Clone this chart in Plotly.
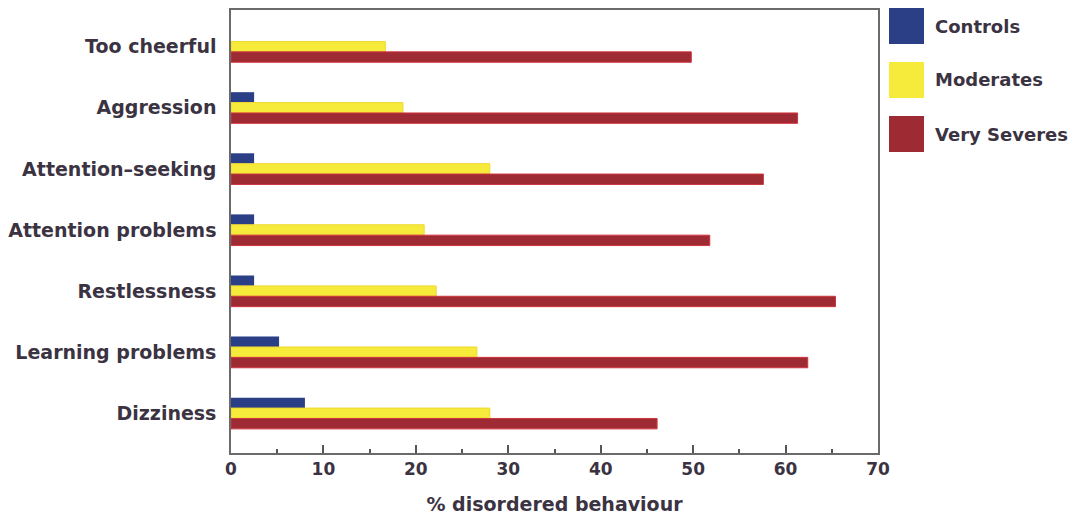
import plotly.graph_objects as go

categories = ["Too cheerful", "Aggression", "Attention\u2013seeking", "Attention problems",
              "Restlessness", "Learning problems", "Dizziness"]
controls = [0, 2.5, 2.5, 2.5, 2.5, 5.2, 8.0]
moderates = [16.7, 18.6, 28.0, 20.9, 22.2, 26.6, 28.0]
very_severes = [49.8, 61.3, 57.6, 51.8, 65.4, 62.4, 46.1]
series_names = ["Controls", "Moderates", "Very Severes"]
series_colors = ["#2b3f86", "#f6ea3a", "#9e2a33"]
series_lines = ["#2b3f86", "#f0d830", "#d0343e"]
x_ticks = [0, 10, 20, 30, 40, 50, 60, 70]

text_color = "#3b3342"
font_family = "DejaVu Sans"

fig = go.Figure()
for i, (name, vals, col, lc) in enumerate(zip(series_names, [controls, moderates, very_severes],
                                             series_colors, series_lines)):
    fig.add_trace(go.Bar(
        y=categories, x=vals, name=name, orientation="h",
        marker=dict(color=col, line=dict(color=lc, width=0 if i == 0 else 1)),
        showlegend=False,
    ))

# custom legend with large swatches
PW, PH = 647.0, 443.0
for i, (name, col) in enumerate(zip(series_names, series_colors)):
    y_top = 1 + 2 / PH - (i * 54) / PH
    fig.add_shape(type="rect", xref="paper", yref="paper",
                  x0=1 + 11 / PW, x1=1 + 46 / PW,
                  y0=y_top - 36 / PH, y1=y_top,
                  fillcolor=col, line=dict(color=col, width=0))
    fig.add_annotation(xref="paper", yref="paper", x=1 + 55 / PW, y=y_top - 18 / PH,
                       text=name, showarrow=False, xanchor="left", yanchor="middle",
                       font=dict(family=font_family, size=18, color=text_color, weight="bold"))

fig.update_layout(
    width=1082, height=522,
    margin=dict(l=223, r=212, t=2, b=77, autoexpand=False),
    barmode="group", bargap=0.49, bargroupgap=0,
    plot_bgcolor="white", paper_bgcolor="white",
    font=dict(family=font_family, color=text_color, size=17, weight="bold"),
)
fig.update_xaxes(
    range=[0, 70], tickvals=x_ticks, ticks="inside", ticklen=8, tickwidth=1.5, tickcolor="#555",
    minor=dict(dtick=5, ticks="inside", ticklen=4, tickcolor="#555", showgrid=False),
    showgrid=False, zeroline=False, showline=True, linecolor="#6a6a6a", linewidth=1.5, mirror=True,
    automargin=False,
    title=dict(text="% disordered behaviour", standoff=20,
               font=dict(family=font_family, size=19, color=text_color, weight="bold")),
    tickfont=dict(family=font_family, size=17, color=text_color, weight="bold"),
)
fig.update_yaxes(
    range=[6.65, -0.6], showgrid=False, zeroline=False, showline=True, linecolor="#6a6a6a",
    linewidth=1.5, mirror=True, ticks="", ticklabelstandoff=9, automargin=False,
    tickfont=dict(family=font_family, size=19, color=text_color, weight="bold"),
)
fig.write_html("out.html")
